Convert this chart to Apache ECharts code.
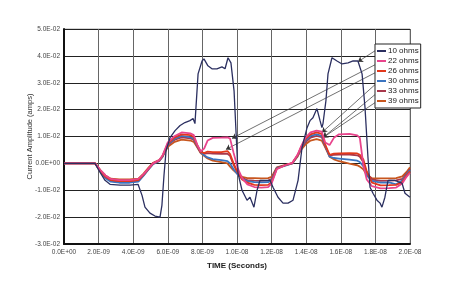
<!DOCTYPE html>
<html><head><meta charset="utf-8">
<script src="https://cdn.jsdelivr.net/npm/echarts@6/dist/echarts.min.js"></script>
<style>html,body{margin:0;padding:0;background:#fff}#c{width:450px;height:300px}</style>
</head><body><div id="c"></div>
<script>
// x values in nanoseconds, y values in amps
var xTickLabels = ['0.0E+00','2.0E-09','4.0E-09','6.0E-09','8.0E-09','1.0E-08','1.2E-08','1.4E-08','1.6E-08','1.8E-08','2.0E-08'];
var yTickLabels = ['-3.0E-02','-2.0E-02','-1.0E-02','0.0E+00','1.0E-02','2.0E-02','3.0E-02','4.0E-02','5.0E-02'];
var seriesNames = ['10 ohms','22 ohms','26 ohms','30 ohms','33 ohms','39 ohms'];

var time10 = [0,1.79,2.08,2.37,2.66,3.24,3.82,4.28,4.51,4.68,4.97,5.26,5.55,5.66,5.78,5.90,6.13,6.42,6.71,6.99,7.28,7.46,7.57,7.75,7.98,8.09,8.32,8.55,8.84,9.13,9.31,9.48,9.65,9.83,9.94,10.06,10.29,10.58,10.75,10.98,11.16,11.33,11.62,11.91,12.08,12.37,12.66,12.95,13.24,13.53,13.76,14.05,14.22,14.39,14.62,14.80,14.91,14.97,15.14,15.26,15.49,15.78,16.07,16.42,16.71,16.99,17.23,17.40,17.57,17.69,17.86,18.09,18.27,18.38,18.55,18.73,19.13,19.54,19.71,20.0];
var ohm10 = [0,0,-0.0033,-0.0063,-0.0078,-0.0081,-0.0081,-0.0078,-0.0119,-0.0163,-0.0185,-0.0196,-0.0200,-0.0156,-0.0044,0.0048,0.0096,0.0122,0.0141,0.0152,0.0159,0.0167,0.0148,0.0333,0.0381,0.0389,0.0363,0.0352,0.0352,0.0359,0.0352,0.0393,0.0374,0.0270,0.0122,-0.0037,-0.0100,-0.0137,-0.0126,-0.0163,-0.0100,-0.0063,-0.0063,-0.0063,-0.0089,-0.0126,-0.0148,-0.0148,-0.0137,-0.0063,0.0059,0.0133,0.0159,0.0170,0.0204,0.0159,0.0133,0.0148,0.0233,0.0333,0.0393,0.0381,0.0370,0.0374,0.0381,0.0381,0.0333,0.0207,0.0022,-0.0089,-0.0111,-0.0137,-0.0148,-0.0163,-0.0126,-0.0063,-0.0063,-0.0074,-0.0111,-0.0126];

var timeB = [0,1.8,2.1,2.4,2.7,3.2,3.8,4.3,4.6,4.9,5.15,5.5,5.7,6.0,6.4,6.8,7.3,7.5,7.7,7.9,8.1,8.3,8.6,9.1,9.45,9.6,9.8,10.05,10.3,10.6,11.0,11.4,11.8,12.0,12.3,12.8,13.2,13.5,13.7,13.95,14.25,14.6,14.9,15.1,15.35,15.6,15.9,16.5,16.95,17.1,17.3,17.5,17.8,18.3,18.8,19.2,19.55,19.8,20.0];
var ohm22 = [0,0,-0.0025,-0.0045,-0.0058,-0.0062,-0.0062,-0.0058,-0.0040,-0.0018,0,0.0012,0.0030,0.0078,0.0102,0.0115,0.0112,0.0105,0.0070,0.0045,0.0055,0.0085,0.0095,0.0096,0.0097,0.0092,0.0040,-0.0020,-0.0055,-0.0078,-0.0088,-0.0090,-0.0088,-0.0075,-0.0022,-0.0006,0.0002,0.0032,0.0062,0.0095,0.0115,0.0122,0.0118,0.0078,0.0068,0.0095,0.0108,0.0110,0.0104,0.0095,-0.0005,-0.0060,-0.0085,-0.0093,-0.0092,-0.0090,-0.0075,-0.0050,-0.0035];
var ohm26 = [0,0,-0.0028,-0.0050,-0.0062,-0.0066,-0.0066,-0.0062,-0.0042,-0.0020,0,0.0010,0.0028,0.0074,0.0097,0.0108,0.0105,0.0098,0.0068,0.0043,0.0038,0.0044,0.0042,0.0042,0.0046,0.0035,0.0000,-0.0035,-0.0060,-0.0072,-0.0080,-0.0081,-0.0080,-0.0070,-0.0020,-0.0007,0.0001,0.0030,0.0060,0.0090,0.0108,0.0115,0.0110,0.0070,0.0032,0.0036,0.0037,0.0038,0.0037,0.0032,0.0015,-0.0030,-0.0072,-0.0082,-0.0081,-0.0080,-0.0070,-0.0045,-0.0030];
var ohm30 = [0,0,-0.0030,-0.0055,-0.0068,-0.0072,-0.0072,-0.0068,-0.0046,-0.0022,-0.0003,0.0008,0.0025,0.0070,0.0092,0.0102,0.0098,0.0092,0.0065,0.0042,0.0030,0.0022,0.0016,0.0012,0.0008,0.0000,-0.0022,-0.0042,-0.0058,-0.0066,-0.0070,-0.0071,-0.0070,-0.0063,-0.0018,-0.0008,0,0.0028,0.0057,0.0085,0.0102,0.0108,0.0102,0.0066,0.0025,0.0020,0.0018,0.0014,0.0010,0.0005,-0.0010,-0.0045,-0.0065,-0.0072,-0.0071,-0.0078,-0.0064,-0.0042,-0.0025];
var ohm33 = [0,0,-0.0030,-0.0052,-0.0065,-0.0069,-0.0069,-0.0065,-0.0044,-0.0020,0,0.0009,0.0027,0.0068,0.0088,0.0097,0.0093,0.0088,0.0063,0.0040,0.0035,0.0038,0.0036,0.0035,0.0036,0.0028,-0.0005,-0.0038,-0.0055,-0.0062,-0.0064,-0.0065,-0.0064,-0.0058,-0.0017,-0.0007,0,0.0028,0.0055,0.0078,0.0096,0.0102,0.0098,0.0062,0.0030,0.0032,0.0033,0.0033,0.0030,0.0025,0.0005,-0.0035,-0.0060,-0.0065,-0.0064,-0.0063,-0.0058,-0.0038,-0.0022];
var ohm39 = [0,0,-0.0025,-0.0045,-0.0057,-0.0060,-0.0060,-0.0057,-0.0038,-0.0015,0.0002,0.0012,0.0025,0.0062,0.0080,0.0088,0.0085,0.0080,0.0060,0.0038,0.0028,0.0018,0.0010,0.0005,0,-0.0012,-0.0026,-0.0040,-0.0050,-0.0055,-0.0055,-0.0056,-0.0055,-0.0050,-0.0015,-0.0006,0.0002,0.0025,0.0050,0.0070,0.0085,0.0090,0.0085,0.0060,0.0025,0.0015,0.0008,-0.0001,-0.0007,-0.0012,-0.0022,-0.0042,-0.0055,-0.0056,-0.0056,-0.0055,-0.0048,-0.0032,-0.0015];

// annotation arrows: [startTime, startValue, endTime, endValue]
var arrows = [
  [17.98,0.0419,16.99,0.0378],
  [17.98,0.0367,9.71,0.0093],
  [17.98,0.0337,9.36,0.0052],
  [17.98,0.0293,14.91,0.0115],
  [17.98,0.0256,14.97,0.0096],
  [17.98,0.0226,14.97,0.0096]
];

var colors = ['#2b2f60','#e8448c','#e2381c','#3a74c0','#a8384c','#c8561e'];
var times = [time10,timeB,timeB,timeB,timeB,timeB];
var vals = [ohm10,ohm22,ohm26,ohm30,ohm33,ohm39];

function pairs(t,v){var o=[];for(var i=0;i<t.length;i++)o.push([t[i],v[i]]);return o;}

var series = [];
var order = [5,4,3,2,1,0];
order.forEach(function(i){
  series.push({
    name: seriesNames[i], type:'line', data: pairs(times[i],vals[i]),
    showSymbol:false, symbol:'none', smooth:false,
    lineStyle:{color:colors[i], width: i===0?1.3:1.8},
    itemStyle:{color:colors[i]}, z: 3+ (5-i), animation:false
  });
});
series.push({
  name:'arrows', type:'line', data:[], symbol:'none', animation:false, z:10,
  markLine:{
    silent:true, animation:false, symbol:['none','arrow'], symbolSize:5,
    label:{show:false},
    lineStyle:{color:'#333', width:0.7, type:'solid'},
    data: arrows.map(function(a){return [{coord:[a[0],a[1]]},{coord:[a[2],a[3]]}];})
  }
});

var chart = echarts.init(document.getElementById('c'), null, {renderer:'canvas'});
chart.setOption({
  animation:false,
  backgroundColor:'#fff',
  color: colors,
  grid:{left:64, right:40, top:29, bottom:56, show:true, borderColor:'#aaa', borderWidth:1},
  legend:{
    data: seriesNames, orient:'vertical', left:375, top:44,
    backgroundColor:'#fff', borderColor:'#222', borderWidth:1, padding:[2,2,2,2],
    itemWidth:9, itemHeight:2, itemGap:0, icon:'rect',
    textStyle:{fontSize:8, lineHeight:10, color:'#222', fontFamily:'Liberation Sans', padding:[0,0,0,-3]},
    z:20
  },
  xAxis:{
    type:'value', min:0, max:20, interval:2,
    name:'TIME (Seconds)', nameLocation:'middle', nameGap:18,
    nameTextStyle:{fontSize:8, fontWeight:'bold', color:'#222', fontFamily:'Liberation Sans'},
    axisLine:{show:true, onZero:false, lineStyle:{color:'#111', width:2}},
    axisTick:{show:false},
    axisLabel:{fontSize:6.5, color:'#444', margin:5, fontFamily:'Liberation Sans',
      formatter:function(v){return xTickLabels[Math.round(v/2)];}},
    splitLine:{show:true, lineStyle:{color:'#666', width:1}}
  },
  yAxis:{
    type:'value', min:-0.03, max:0.05, interval:0.01,
    name:'Current Amplitude (amps)', nameLocation:'middle', nameGap:30, nameRotate:90,
    nameMoveOverlap:false,
    nameTextStyle:{fontSize:7.5, color:'#333', fontFamily:'Liberation Sans'},
    axisLine:{show:true, onZero:false, lineStyle:{color:'#111', width:2}},
    axisTick:{show:false},
    axisLabel:{fontSize:6.5, color:'#444', margin:4, fontFamily:'Liberation Sans',
      formatter:function(v){return yTickLabels[Math.round(v*100)+3];}},
    splitLine:{show:true, lineStyle:{color:'#222', width:1}}
  },
  series: series
});
</script></body></html>
